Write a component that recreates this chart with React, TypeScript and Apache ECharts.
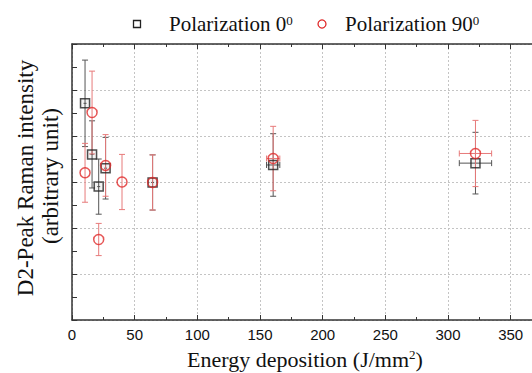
import React, { useEffect, useRef } from "react";
import * as echarts from "echarts";

const xTicks = [0, 50, 100, 150, 200, 250, 300, 350];

const x0 = [10.4, 16, 21.3, 26.8, 64.3, 160.5, 321.9];
const y0 = [4.71, 3.6, 2.9, 3.3, 2.99, 3.37, 3.41];
const y0err = [0.94, 0.73, 0.6, 0.67, 0.6, 0.68, 0.67];
const x0err = [1.2, 1.2, 1.2, 1.2, 1.2, 5.3, 12.9];

const x90 = [10.4, 16, 21.3, 26.8, 39.9, 64.3, 160.5, 321.9];
const y90 = [3.2, 4.51, 1.75, 3.36, 3.0, 2.99, 3.51, 3.62];
const y90err = [0.64, 0.9, 0.35, 0.67, 0.6, 0.6, 0.7, 0.72];
const x90err = [0, 0, 0, 0, 0, 0, 5.3, 12.9];

const legendNames = ["Polarization 0", "Polarization 90"];

const SERIF = "'Liberation Serif', 'DejaVu Serif', serif";
const SANS = "'Liberation Sans', Arial, sans-serif";

function errorRenderer(color: string) {
  return (params: any, api: any) => {
    const x = api.value(0);
    const y = api.value(1);
    const ye = api.value(2);
    const xe = api.value(3);
    const cap = 3;
    const top = api.coord([x, y + ye]);
    const bot = api.coord([x, y - ye]);
    const shapes: any[] = [
      { x1: top[0], y1: top[1], x2: bot[0], y2: bot[1] },
      { x1: top[0] - cap, y1: top[1], x2: top[0] + cap, y2: top[1] },
      { x1: bot[0] - cap, y1: bot[1], x2: bot[0] + cap, y2: bot[1] },
    ];
    if (xe > 0) {
      const l = api.coord([x - xe, y]);
      const r = api.coord([x + xe, y]);
      shapes.push({ x1: l[0], y1: l[1], x2: r[0], y2: r[1] });
      if (xe > 2) {
        shapes.push({ x1: l[0], y1: l[1] - cap, x2: l[0], y2: l[1] + cap });
        shapes.push({ x1: r[0], y1: r[1] - cap, x2: r[0], y2: r[1] + cap });
      }
    }
    return {
      type: "group",
      children: shapes.map((s) => ({
        type: "line",
        shape: s,
        style: { stroke: color, lineWidth: 1 },
      })),
    };
  };
}

export default function App() {
  const ref = useRef<HTMLDivElement>(null);
  useEffect(() => {
    if (!ref.current) return;
    const chart = echarts.init(ref.current, undefined, { renderer: "svg" });
    const sq = x0.map((x, i) => [x, y0[i]]);
    const ci = x90.map((x, i) => [x, y90[i]]);
    const sqErr = x0.map((x, i) => [x, y0[i], y0err[i], x0err[i]]);
    const ciErr = x90.map((x, i) => [x, y90[i], y90err[i], x90err[i]]);
    const axisLine = { show: true, lineStyle: { color: "#333", width: 1.5 } };
    const supRich = { s: { fontSize: 13, fontFamily: SERIF, verticalAlign: "top", fill: "#111" } };
    chart.setOption({
      animation: false,
      grid: { left: 72, right: 0, top: 44, bottom: 53 },
      xAxis: [
        {
          type: "value",
          min: 0,
          max: 367,
          interval: 50,
          position: "bottom",
          axisLine,
          axisTick: { show: true, inside: true, length: 5, lineStyle: { color: "#333" } },
          minorTick: { show: true, splitNumber: 2, length: 3, lineStyle: { color: "#333" } },
          axisLabel: {
            color: "#111",
            fontSize: 15,
            fontFamily: SANS,
            margin: 7,
            showMaxLabel: false,
            formatter: (v: number) => (xTicks.includes(v) ? String(v) : ""),
          },
          splitLine: { show: true, lineStyle: { color: "#c4c4c4", type: [2, 2], width: 1 } },
        },
        {
          type: "value",
          min: 0,
          max: 367,
          interval: 50,
          position: "top",
          axisLine,
          axisTick: { show: true, inside: true, length: 5, lineStyle: { color: "#333" } },
          minorTick: { show: true, splitNumber: 2, length: 3, lineStyle: { color: "#333" } },
          axisLabel: { show: false },
          splitLine: { show: false },
        },
      ],
      yAxis: {
        type: "value",
        min: 0,
        max: 6,
        interval: 1,
        axisLine,
        axisTick: { show: true, inside: true, length: 5, lineStyle: { color: "#333" } },
        minorTick: { show: true, splitNumber: 2, length: 5, lineStyle: { color: "#333" } },
        axisLabel: { show: false },
        splitLine: { show: true, lineStyle: { color: "#c4c4c4", type: [2, 2], width: 1 } },
      },
      series: [
        {
          type: "custom",
          name: "err0",
          renderItem: errorRenderer("#555"),
          data: sqErr,
          encode: { x: 0, y: 1 },
          z: 1,
        },
        {
          type: "custom",
          name: "err90",
          renderItem: errorRenderer("#e77a7a"),
          data: ciErr,
          encode: { x: 0, y: 1 },
          z: 1,
        },
        {
          type: "scatter",
          name: legendNames[0],
          data: sq,
          symbol: "rect",
          symbolSize: 9,
          itemStyle: { color: "rgba(0,0,0,0.06)", borderColor: "#222", borderWidth: 1.5 },
          z: 3,
        },
        {
          type: "scatter",
          name: legendNames[1],
          data: ci,
          symbol: "circle",
          symbolSize: 10,
          itemStyle: { color: "rgba(0,0,0,0)", borderColor: "#e02b2b", borderWidth: 1.5 },
          z: 4,
        },
      ],
      graphic: [
        {
          type: "rect",
          shape: { x: 133.5, y: 20.5, width: 7, height: 7 },
          style: { fill: "none", stroke: "#222", lineWidth: 1.3 },
        },
        {
          type: "text",
          x: 169,
          y: 24,
          style: {
            text: legendNames[0] + "{s|0}",
            font: `21px ${SERIF}`,
            fill: "#111",
            verticalAlign: "middle",
            rich: supRich,
          },
        },
        {
          type: "circle",
          shape: { cx: 322, cy: 24, r: 4 },
          style: { fill: "none", stroke: "#e02b2b", lineWidth: 1.3 },
        },
        {
          type: "text",
          x: 345,
          y: 24,
          style: {
            text: legendNames[1] + "{s|0}",
            font: `21px ${SERIF}`,
            fill: "#111",
            verticalAlign: "middle",
            rich: supRich,
          },
        },
        {
          type: "text",
          x: 25,
          y: 178,
          rotation: Math.PI / 2,
          style: {
            text: "D2-Peak Raman intensity",
            font: `23px ${SERIF}`,
            fill: "#111",
            align: "center",
            verticalAlign: "middle",
          },
        },
        {
          type: "text",
          x: 50,
          y: 176,
          rotation: Math.PI / 2,
          style: {
            text: "(arbitrary unit)",
            font: `23px ${SERIF}`,
            fill: "#111",
            align: "center",
            verticalAlign: "middle",
          },
        },
        {
          type: "text",
          x: 305,
          y: 359,
          style: {
            text: "Energy deposition (J/mm{s|2})",
            font: `22px ${SERIF}`,
            fill: "#111",
            align: "center",
            verticalAlign: "middle",
            rich: supRich,
          },
        },
      ],
    });
    return () => chart.dispose();
  }, []);
  return (
    <div
      ref={ref}
      style={{ position: "fixed", left: 0, top: 0, width: 532, height: 373, background: "#fff" }}
    />
  );
}
